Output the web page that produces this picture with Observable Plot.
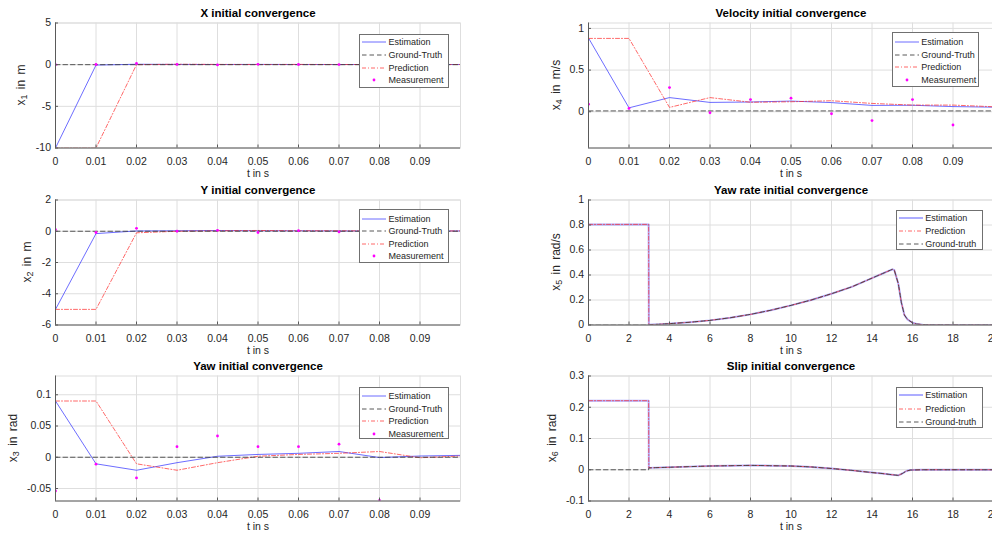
<!DOCTYPE html>
<html>
<head>
<meta charset="utf-8">
<script src="https://cdn.jsdelivr.net/npm/d3@7"></script>
<script src="https://cdn.jsdelivr.net/npm/@observablehq/plot@0.6"></script>
<style>
  html, body { margin: 0; padding: 0; background: #fff; }
  body { width: 992px; height: 537px; overflow: hidden; position: relative;
         font-family: "Liberation Sans", Arial, Helvetica, sans-serif; }
  .panel { position: absolute; }
  .panel svg { overflow: visible; max-width: none !important; display: block; }
  .legend { position: absolute; background: #fff; border: 1px solid #707070; box-sizing: border-box;
            font-size: 9px; color: #262626; }
  .legend .row { display: flex; align-items: center; white-space: nowrap; }
  .legend .row svg { display: block; flex: none; margin: 0 2.5px 0 2px; }
</style>
</head>
<body>
<script>
// ---- time bases ----
const tFilter = [0, 0.01, 0.02, 0.03, 0.04, 0.05, 0.06, 0.07, 0.08, 0.09, 0.1];
const tFilterTicks = [0, 0.01, 0.02, 0.03, 0.04, 0.05, 0.06, 0.07, 0.08, 0.09];
const tRunTicks = [0, 2, 4, 6, 8, 10, 12, 14, 16, 18, 20];

// ---- X position (m) ----
const xEstimation = [-10, -0.05, 0.05, 0.03, 0.02, 0.03, 0.02, 0.02, 0.02, 0.02, 0.02];
const xPrediction = [-10, -10, 0.0, 0.05, 0.03, 0.02, 0.03, 0.02, 0.02, 0.02, 0.02];
const xTruth = [0, 0, 0, 0, 0, 0, 0, 0, 0, 0, 0];
const xMeasurement = [0.0, 0.02, 0.15, 0.03, -0.03, 0.04, 0.02, 0.01, null, null];
const xTicks = [-10, -5, 0, 5];

// ---- Y position (m) ----
const yEstimation = [-5, -0.15, 0.02, 0.03, 0.05, 0.03, 0.03, 0.02, 0.02, 0.02, 0.02];
const yPrediction = [-5, -5, -0.1, 0.0, 0.03, 0.05, 0.03, 0.03, 0.02, 0.02, 0.02];
const yTruth = [0, 0, 0, 0, 0, 0, 0, 0, 0, 0, 0];
const yMeasurement = [0.1, -0.08, 0.19, 0.0, 0.06, -0.08, 0.04, -0.04, null, null];
const yTicks = [-6, -4, -2, 0, 2];

// ---- Yaw (rad) ----
const yawEstimation = [0.09, -0.0105, -0.0208, -0.0087, 0.0016, 0.0045, 0.0063, 0.0092, -0.0005, 0.002, 0.003];
const yawPrediction = [0.09, 0.09, -0.0105, -0.0208, -0.0087, 0.0016, 0.0045, 0.0063, 0.0092, -0.0008, 0.002];
const yawTruth = [0, 0, 0, 0, 0, 0, 0, 0, 0, 0, 0];
const yawMeasurement = [-0.054, -0.011, -0.033, 0.017, 0.034, 0.017, 0.017, 0.021, -0.069, null];
const yawTicks = [-0.05, 0, 0.05, 0.1];

// ---- Velocity (m/s) ----
const velEstimation = [0.885, 0.047, 0.17, 0.112, 0.117, 0.128, 0.11, 0.076, 0.078, 0.062, 0.055];
const velPrediction = [0.88, 0.88, 0.052, 0.17, 0.114, 0.12, 0.132, 0.1, 0.08, 0.08, 0.06];
const velTruth = [0.01, 0.01, 0.01, 0.01, 0.01, 0.01, 0.01, 0.01, 0.01, 0.01, 0.01];
const velMeasurement = [0.09, 0.04, 0.29, -0.012, 0.146, 0.163, -0.024, -0.106, 0.146, -0.159];
const velTicks = [0, 0.5, 1];

// ---- Yaw rate (rad/s) over the whole run ----
const tRate = [0, 2.97, 2.98, 3.5, 4, 5, 6, 7, 8, 9, 10, 11, 12, 13, 14, 14.5, 15, 15.1, 15.3, 15.45, 15.6, 15.75, 16, 16.2, 16.5, 17, 18, 19, 20];
const rateEstimation = [0.805, 0.805, 0.003, 0.006, 0.011, 0.022, 0.037, 0.058, 0.085, 0.118, 0.157, 0.2, 0.25, 0.305, 0.375, 0.41, 0.445, 0.44, 0.33, 0.18, 0.08, 0.045, 0.018, 0.008, 0.003, 0.001, 0, 0, 0];
const ratePrediction = [0.805, 0.805, 0.003, 0.006, 0.011, 0.022, 0.037, 0.058, 0.085, 0.118, 0.157, 0.2, 0.25, 0.305, 0.375, 0.41, 0.445, 0.44, 0.33, 0.18, 0.08, 0.045, 0.018, 0.008, 0.003, 0.001, 0, 0, 0];
const rateTruth = [0, 0, 0.003, 0.006, 0.011, 0.022, 0.037, 0.058, 0.085, 0.118, 0.157, 0.2, 0.25, 0.305, 0.375, 0.41, 0.445, 0.44, 0.33, 0.18, 0.08, 0.045, 0.018, 0.008, 0.003, 0.001, 0, 0, 0];
const rateTicks = [0, 0.2, 0.4, 0.6, 0.8, 1];

// ---- Slip angle (rad) over the whole run ----
const tSlip = [0, 2.97, 2.98, 4, 5, 6, 7, 8, 9, 10, 11, 12, 13, 14, 14.5, 15, 15.3, 15.5, 15.7, 15.9, 16.5, 17, 18, 19, 20];
const slipEstimation = [0.221, 0.221, 0.006, 0.008, 0.01, 0.012, 0.013, 0.014, 0.013, 0.012, 0.009, 0.004, -0.002, -0.009, -0.012, -0.016, -0.018, -0.012, -0.004, -0.001, 0, 0, 0, 0, 0];
const slipPrediction = [0.221, 0.221, 0.006, 0.008, 0.01, 0.012, 0.013, 0.014, 0.013, 0.012, 0.009, 0.004, -0.002, -0.009, -0.012, -0.016, -0.018, -0.012, -0.004, -0.001, 0, 0, 0, 0, 0];
const slipTruth = [0, 0, 0.006, 0.008, 0.01, 0.012, 0.013, 0.014, 0.013, 0.012, 0.009, 0.004, -0.002, -0.009, -0.012, -0.016, -0.018, -0.012, -0.004, -0.001, 0, 0, 0, 0, 0];
const slipTicks = [-0.1, 0, 0.1, 0.2, 0.3];

// ---- texts ----
const titles = ["X initial convergence", "Velocity initial convergence", "Y initial convergence",
                "Yaw rate initial convergence", "Yaw initial convergence", "Slip initial convergence"];
const yLabels = [["x", "1", " in m"], ["x", "4", " in m/s"], ["x", "2", " in m"],
                 ["x", "5", " in rad/s"], ["x", "3", " in rad"], ["x", "6", " in rad"]];
const xLabel = "t in s";
const legendFilter = ["Estimation", "Ground-Truth", "Prediction", "Measurement"];
const legendRun = ["Estimation", "Prediction", "Ground-truth"];

// ---- styles ----
const INK = "#262626";
const STYLES = {
  est: {stroke: "#2f2fff", strokeOpacity: 0.7, strokeWidth: 1},
  estThick: {stroke: "#4a4aff", strokeOpacity: 0.45, strokeWidth: 2},
  pred: {stroke: "#ff2a2a", strokeOpacity: 0.7, strokeWidth: 1, strokeDasharray: "4,2,1,2"},
  truth: {stroke: "#3c3c3c", strokeOpacity: 0.85, strokeWidth: 1, strokeDasharray: "4.5,3"},
  meas: {fill: "#ff00ff", r: 1.4}
};
const fmt = d => String(Math.round(d * 1e4) / 1e4);

const zip = (t, v) => t.map((tt, i) => ({t: tt, v: v[i]})).filter(d => d.v != null);

// ---- layout ----
const SVG_H = 178, M_TOP = 22.5, M_BOTTOM = 30.5, PH = SVG_H - M_TOP - M_BOTTOM;
const COLS = [{left: 0, width: 470, marginLeft: 55, marginRight: 10},
              {left: 520, width: 483, marginLeft: 68, marginRight: 10}];
const ROWS = [0, 176.5, 353.2];

function panel(cfg) {
  const col = COLS[cfg.col];
  const pw = col.width - col.marginLeft - col.marginRight;
  const lines = cfg.series.map(s => Plot.line(zip(s.t, s.v), {x: "t", y: "v", clip: true, ...STYLES[s.kind]}));
  const dots = cfg.meas ? [Plot.dot(zip(cfg.meas.t, cfg.meas.v), {x: "t", y: "v", clip: true, ...STYLES.meas})] : [];
  const svg = Plot.plot({
    width: col.width, height: SVG_H,
    marginLeft: col.marginLeft, marginRight: col.marginRight, marginTop: M_TOP, marginBottom: M_BOTTOM,
    style: {fontFamily: '"Liberation Sans", Arial, Helvetica, sans-serif', fontSize: "10px", color: INK, background: "transparent", overflow: "visible", maxWidth: "none"},
    x: {domain: cfg.xDomain, axis: null},
    y: {domain: cfg.yDomain, axis: null},
    marks: [
      Plot.gridX(cfg.xTicks, {stroke: "#dedede", strokeOpacity: 1}),
      Plot.gridY(cfg.yTicks, {stroke: "#dedede", strokeOpacity: 1}),
      Plot.frame({stroke: "#dedede"}),
      ...lines,
      ...dots,
      Plot.ruleX([cfg.xDomain[0]], {stroke: "#5a5a5a"}),
      Plot.ruleY([cfg.yDomain[0]], {stroke: "#5a5a5a"}),
      Plot.ruleX(cfg.xTicks, {stroke: "#5a5a5a", insetTop: PH - 3}),
      Plot.ruleY(cfg.yTicks, {stroke: "#5a5a5a", insetRight: pw - 3}),
      Plot.axisX(cfg.xTicks, {tickSize: 0, tickPadding: 9.5, tickFormat: fmt, label: null, fontSize: 10.5, fill: INK}),
      Plot.axisY(cfg.yTicks, {tickSize: 0, tickPadding: 4.5, tickFormat: fmt, label: null, fontSize: 10.5, fill: INK}),
      Plot.text([cfg.title], {text: d => d, frameAnchor: "top", lineAnchor: "middle", dy: -9.5, fontWeight: "bold", fontSize: 11.5, fill: "#000"}),
      Plot.text([xLabel], {text: d => d, frameAnchor: "bottom", lineAnchor: "middle", dy: 26, fontSize: 10.5, fill: INK})
    ]
  });
  // y label with a subscript state index
  const lab = d3.select(svg).append("text")
    .attr("transform", `translate(${col.marginLeft - cfg.yLabelOffset},${M_TOP + PH / 2}) rotate(-90)`)
    .attr("text-anchor", "middle")
    .attr("dominant-baseline", "central")
    .attr("font-size", 12)
    .attr("word-spacing", 2)
    .attr("fill", INK);
  lab.append("tspan").text(cfg.yLabel[0]);
  lab.append("tspan").attr("dy", 3).attr("font-size", 9).text(cfg.yLabel[1]);
  lab.append("tspan").attr("dy", -3).text(cfg.yLabel[2]);

  const wrap = document.createElement("div");
  wrap.className = "panel";
  wrap.style.left = col.left + "px";
  wrap.style.top = ROWS[cfg.row] + "px";
  wrap.style.width = col.width + "px";
  wrap.style.height = SVG_H + "px";
  wrap.appendChild(svg);
  document.body.appendChild(wrap);

  legend(cfg.legend);
}

function legend(L) {
  const box = d3.select(document.body).append("div").attr("class", "legend")
    .style("left", L.left + "px").style("top", L.top + "px")
    .style("width", L.width + "px").style("height", L.height + "px")
    .style("padding-top", L.padTop + "px");
  L.items.forEach(([label, kind]) => {
    const row = box.append("div").attr("class", "row").style("height", L.rowH + "px");
    const s = row.append("svg").attr("width", 24).attr("height", 10);
    if (kind === "meas") {
      s.append("circle").attr("cx", 12).attr("cy", 5).attr("r", STYLES.meas.r).attr("fill", STYLES.meas.fill);
    } else {
      const st = STYLES[kind];
      s.append("line").attr("x1", 0).attr("x2", 24).attr("y1", 5).attr("y2", 5)
        .attr("stroke", st.stroke).attr("stroke-opacity", st.strokeOpacity)
        .attr("stroke-width", st.strokeWidth).attr("stroke-dasharray", st.strokeDasharray || null);
    }
    row.append("span").text(label);
  });
}

const filterKinds = ["est", "truth", "pred", "meas"];
const runKindsThick = ["estThick", "pred", "truth"];

panel({col: 0, row: 0, title: titles[0], yLabel: yLabels[0], yLabelOffset: 34,
  xDomain: [0, 0.1], xTicks: tFilterTicks, yDomain: [-10, 5], yTicks: xTicks,
  series: [{t: tFilter, v: xEstimation, kind: "est"}, {t: tFilter, v: xPrediction, kind: "pred"}, {t: tFilter, v: xTruth, kind: "truth"}],
  meas: {t: tFilter, v: xMeasurement},
  legend: {left: 359, top: 34.3, width: 90, height: 53.4, padTop: 0, rowH: 12.9, items: legendFilter.map((l, i) => [l, filterKinds[i]])}});

panel({col: 1, row: 0, title: titles[1], yLabel: yLabels[1], yLabelOffset: 32,
  xDomain: [0, 0.1], xTicks: tFilterTicks, yDomain: [-0.435, 1.065], yTicks: velTicks,
  series: [{t: tFilter, v: velEstimation, kind: "est"}, {t: tFilter, v: velPrediction, kind: "pred"}, {t: tFilter, v: velTruth, kind: "truth"}],
  meas: {t: tFilter, v: velMeasurement},
  legend: {left: 891.7, top: 31.7, width: 87.6, height: 55, padTop: 2.5, rowH: 12.9, items: legendFilter.map((l, i) => [l, filterKinds[i]])}});

panel({col: 0, row: 1, title: titles[2], yLabel: yLabels[2], yLabelOffset: 28,
  xDomain: [0, 0.1], xTicks: tFilterTicks, yDomain: [-6, 2], yTicks: yTicks,
  series: [{t: tFilter, v: yEstimation, kind: "est"}, {t: tFilter, v: yPrediction, kind: "pred"}, {t: tFilter, v: yTruth, kind: "truth"}],
  meas: {t: tFilter, v: yMeasurement},
  legend: {left: 359, top: 209.3, width: 90, height: 53.4, padTop: 2, rowH: 12.6, items: legendFilter.map((l, i) => [l, filterKinds[i]])}});

panel({col: 1, row: 1, title: titles[3], yLabel: yLabels[3], yLabelOffset: 32,
  xDomain: [0, 20], xTicks: tRunTicks, yDomain: [0, 1], yTicks: rateTicks,
  series: [{t: tRate, v: rateEstimation, kind: "estThick"}, {t: tRate, v: ratePrediction, kind: "pred"}, {t: tRate, v: rateTruth, kind: "truth"}],
  meas: null,
  legend: {left: 895.7, top: 210, width: 87, height: 40, padTop: 0, rowH: 13.3, items: legendRun.map((l, i) => [l, runKindsThick[i]])}});

panel({col: 0, row: 2, title: titles[4], yLabel: yLabels[4], yLabelOffset: 42,
  xDomain: [0, 0.1], xTicks: tFilterTicks, yDomain: [-0.07, 0.13], yTicks: yawTicks,
  series: [{t: tFilter, v: yawEstimation, kind: "est"}, {t: tFilter, v: yawPrediction, kind: "pred"}, {t: tFilter, v: yawTruth, kind: "truth"}],
  meas: {t: tFilter, v: yawMeasurement},
  legend: {left: 359, top: 386.7, width: 90, height: 52.3, padTop: 1.8, rowH: 12.8, items: legendFilter.map((l, i) => [l, filterKinds[i]])}});

panel({col: 1, row: 2, title: titles[5], yLabel: yLabels[5], yLabelOffset: 36,
  xDomain: [0, 20], xTicks: tRunTicks, yDomain: [-0.1, 0.3], yTicks: slipTicks,
  series: [{t: tSlip, v: slipEstimation, kind: "estThick"}, {t: tSlip, v: slipPrediction, kind: "pred"}, {t: tSlip, v: slipTruth, kind: "truth"}],
  meas: null,
  legend: {left: 895.7, top: 386.7, width: 87, height: 41, padTop: 1.2, rowH: 13.2, items: legendRun.map((l, i) => [l, runKindsThick[i]])}});
</script>
</body>
</html>
